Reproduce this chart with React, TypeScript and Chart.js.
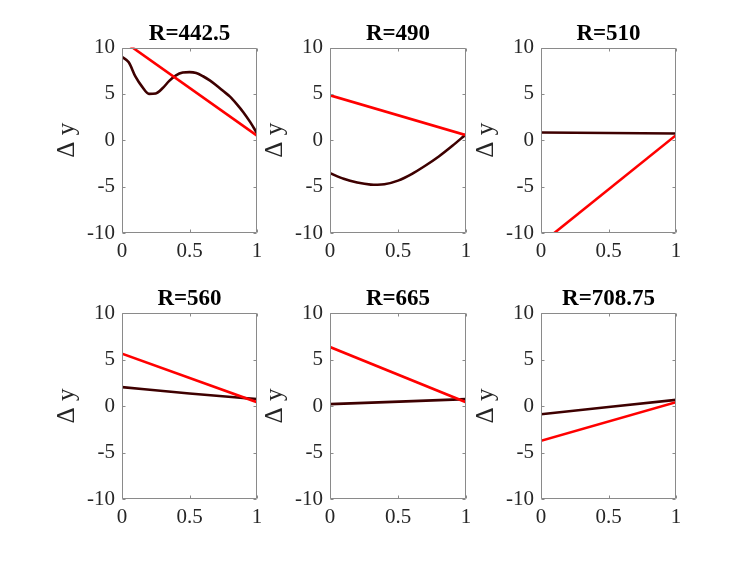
import React, { useEffect, useRef } from "react";
import { Chart, registerables } from "chart.js";

Chart.register(...registerables);

// ---------- data ----------
const titles = ["R=442.5", "R=490", "R=510", "R=560", "R=665", "R=708.75"];
const xTickValues = [0, 0.5, 1];
const yTickValues = [-10, -5, 0, 5, 10];
const yLabel = "Δ y";

const lineX = [0, 1];

// R=442.5
const red442Y = [10.8, 0.5];
const dark442X = [0, 0.05, 0.1, 0.15, 0.2, 0.25, 0.3, 0.35, 0.4, 0.45, 0.5, 0.55, 0.6, 0.65, 0.7, 0.75, 0.8, 0.85, 0.9, 0.95, 1];
const dark442Y = [9.0, 8.4, 6.85, 5.75, 5.0, 5.05, 5.6, 6.4, 7.0, 7.3, 7.35, 7.25, 6.9, 6.45, 5.9, 5.3, 4.7, 3.9, 3.0, 1.95, 0.75];

// R=490
const red490Y = [4.84, 0.55];
const dark490X = [0, 0.1, 0.2, 0.3, 0.35, 0.4, 0.5, 0.6, 0.7, 0.8, 0.9, 1];
const dark490Y = [-3.55, -4.15, -4.55, -4.78, -4.8, -4.75, -4.35, -3.65, -2.75, -1.75, -0.6, 0.65];

// R=510
const red510Y = [-11.15, 0.55];
const dark510X = [0, 1];
const dark510Y = [0.84, 0.73];

// R=560
const red560Y = [5.62, 0.41];
const dark560X = [0, 0.5, 1];
const dark560Y = [2.03, 1.35, 0.74];

// R=665
const red665Y = [6.34, 0.41];
const dark665X = [0, 1];
const dark665Y = [0.2, 0.74];

// R=708.75
const red708Y = [-3.75, 0.41];
const dark708X = [0, 1];
const dark708Y = [-0.88, 0.66];

const redSeries = [red442Y, red490Y, red510Y, red560Y, red665Y, red708Y];
const darkSeriesX = [dark442X, dark490X, dark510X, dark560X, dark665X, dark708X];
const darkSeriesY = [dark442Y, dark490Y, dark510Y, dark560Y, dark665Y, dark708Y];

// ---------- layout ----------
const W = 747;
const H = 561;
const colLeft = [122, 330, 541];
const colRight = [257, 466, 676];
const rowTop = [47.5, 313];
const rowBottom = [233, 499];
const YW = 70;
const XH = 40;

const FONT = '"Liberation Serif", "Times New Roman", serif';
const RED = "#ff0000";
const DARK = "#3e0000";

const toPts = (xs: number[], ys: number[]) => xs.map((x, i) => ({ x, y: ys[i] }));

const boxPlugin = {
  id: "mbox",
  afterDatasetsDraw(chart: any, _args: any, opts: any) {
    const { ctx, chartArea: a, scales } = chart;
    const l = Math.round(a.left) + 0.5;
    const r = Math.round(a.right) - 0.5;
    const t = Math.round(a.top) + 0.5;
    const b = Math.round(a.bottom) - 0.5;
    ctx.save();
    ctx.strokeStyle = "#8a8a8a";
    ctx.lineWidth = 1;
    ctx.beginPath();
    ctx.rect(l, t, r - l, b - t);
    const tl = 3;
    scales.x.ticks.forEach((tk: any) => {
      const px = Math.round(scales.x.getPixelForValue(tk.value)) + 0.5;
      ctx.moveTo(px, b);
      ctx.lineTo(px, b - tl);
      ctx.moveTo(px, t);
      ctx.lineTo(px, t + tl);
    });
    scales.y.ticks.forEach((tk: any) => {
      const py = Math.round(scales.y.getPixelForValue(tk.value)) + 0.5;
      ctx.moveTo(l, py);
      ctx.lineTo(l + tl, py);
      ctx.moveTo(r, py);
      ctx.lineTo(r - tl, py);
    });
    ctx.stroke();
    ctx.fillStyle = "#000000";
    ctx.font = `bold 23px ${FONT}`;
    ctx.textAlign = "center";
    ctx.textBaseline = "alphabetic";
    ctx.fillText(opts.text, (a.left + a.right) / 2, a.top - 8);
    ctx.restore();
  },
};

function Panel({ idx }: { idx: number }) {
  const ref = useRef<HTMLCanvasElement | null>(null);
  useEffect(() => {
    if (!ref.current) return;
    const col = idx % 3;
    const row = Math.floor(idx / 3);
    const chart = new Chart(ref.current, {
      type: "line",
      data: {
        datasets: [
          {
            data: toPts(lineX, redSeries[idx]),
            borderColor: RED,
            borderWidth: 2.6,
            pointRadius: 0,
            fill: false,
            clip: 0,
          } as any,
          {
            data: toPts(darkSeriesX[idx], darkSeriesY[idx]),
            borderColor: DARK,
            borderWidth: 2.6,
            pointRadius: 0,
            fill: false,
            cubicInterpolationMode: "monotone",
            clip: 0,
          } as any,
        ],
      },
      options: {
        responsive: false,
        animation: false,
        events: [],
        layout: {
          padding: {
            left: colLeft[col] - YW,
            top: rowTop[row],
            right: W - colRight[col],
            bottom: H - rowBottom[row] - XH,
          },
        },
        plugins: {
          legend: { display: false },
          tooltip: { enabled: false },
          title: { display: false },
          mbox: { text: titles[idx] },
        } as any,
        scales: {
          x: {
            type: "linear",
            min: 0,
            max: 1,
            afterBuildTicks: (s: any) => {
              s.ticks = xTickValues.map((v) => ({ value: v }));
            },
            afterFit: (s: any) => {
              s.height = XH;
            },
            grid: { display: false, drawTicks: false },
            border: { display: false },
            ticks: {
              color: "#262626",
              font: { family: FONT, size: 21 },
              padding: 6,
              maxRotation: 0,
              autoSkip: false,
              callback: (v: any) => String(v),
            },
          },
          y: {
            type: "linear",
            min: -10,
            max: 10,
            afterBuildTicks: (s: any) => {
              s.ticks = yTickValues.map((v) => ({ value: v }));
            },
            afterFit: (s: any) => {
              s.width = YW;
            },
            grid: { display: false, drawTicks: false },
            border: { display: false },
            title: {
              display: true,
              text: yLabel,
              color: "#262626",
              font: { family: FONT, size: 25 },
              padding: 0,
            },
            ticks: {
              color: "#262626",
              font: { family: FONT, size: 21 },
              padding: 7,
              autoSkip: false,
              callback: (v: any) => String(v),
            },
          },
        },
      },
      plugins: [boxPlugin],
    });
    return () => chart.destroy();
  }, [idx]);
  return (
    <canvas
      ref={ref}
      width={W}
      height={H}
      style={{ position: "absolute", left: 0, top: 0, width: W, height: H }}
    />
  );
}

export default function App() {
  useEffect(() => {
    document.body.style.margin = "0";
  }, []);
  return (
    <div
      style={{
        position: "absolute",
        left: 0,
        top: 0,
        width: W,
        height: H,
        background: "#ffffff",
        overflow: "hidden",
      }}
    >
      {[0, 1, 2, 3, 4, 5].map((i) => (
        <Panel key={i} idx={i} />
      ))}
    </div>
  );
}
